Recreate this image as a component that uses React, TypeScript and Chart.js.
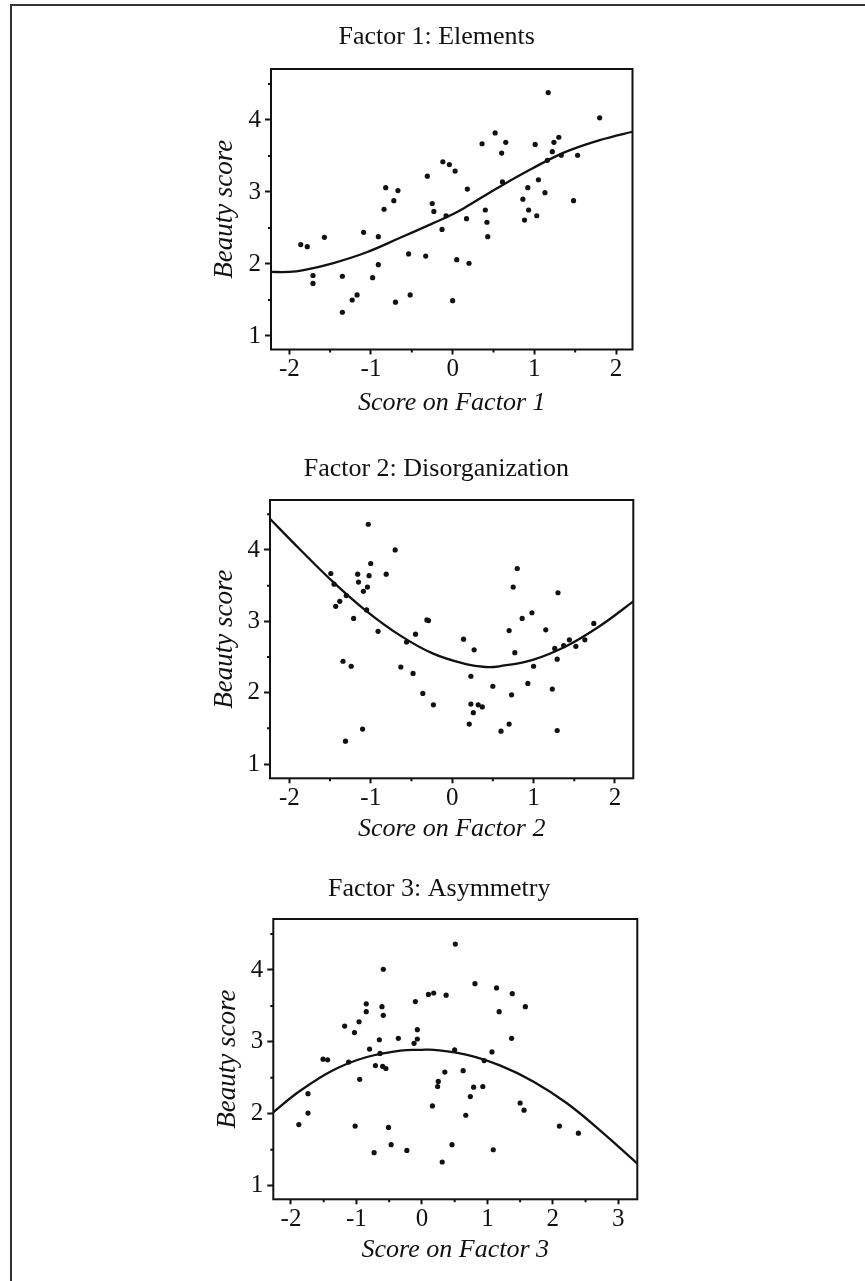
import React, { useEffect, useRef } from "react";
import { Chart, registerables } from "chart.js";

Chart.register(...registerables);

const FONT = "'Liberation Serif', 'Times New Roman', Times, serif";
const INK = "#111111";

// ---------- Data: Factor 1 (Elements) ----------
const f1X = [-1.86, -1.78, -1.57, -1.71, -1.71, -1.35, -1.35, -1.23, -1.17, -1.09, -0.98, -0.91, -0.91, -0.84, -0.82, -0.72, -0.67, -0.7, -0.54, -0.52, -0.33, -0.31, -0.25, -0.23, -0.13, -0.12, -0.08, -0.04, 0.03, 0.0, 0.05, 0.17, 0.18, 0.2, 0.36, 0.4, 0.42, 0.43, 0.52, 0.6, 0.61, 0.65, 0.86, 0.88, 0.92, 0.93, 1.01, 1.03, 1.05, 1.13, 1.16, 1.17, 1.22, 1.24, 1.3, 1.33, 1.48, 1.53, 1.8];
const f1Y = [2.27, 2.24, 2.37, 1.84, 1.73, 1.83, 1.33, 1.5, 1.57, 2.44, 1.81, 1.99, 2.38, 2.76, 3.06, 2.88, 3.02, 1.47, 2.14, 1.57, 2.11, 3.22, 2.84, 2.73, 2.48, 3.42, 2.67, 3.38, 3.29, 1.49, 2.06, 2.63, 3.04, 2.01, 3.67, 2.75, 2.58, 2.38, 3.82, 3.54, 3.14, 3.69, 2.9, 2.61, 3.06, 2.75, 3.66, 2.67, 3.17, 2.99, 3.44, 4.38, 3.56, 3.69, 3.76, 3.51, 2.88, 3.51, 4.03];
const f1CurveX = [-2.25, -2.0, -1.84, -1.47, -1.06, -0.65, -0.25, 0.0, 0.16, 0.57, 0.98, 1.39, 1.8, 2.25];
const f1CurveY = [1.89, 1.89, 1.91, 2.01, 2.16, 2.36, 2.56, 2.69, 2.79, 3.07, 3.33, 3.56, 3.72, 3.85];

// ---------- Data: Factor 2 (Disorganization) ----------
const f2X = [-1.49, -1.45, -1.43, -1.38, -1.3, -1.34, -1.31, -1.24, -1.21, -1.16, -1.15, -1.1, -1.09, -1.05, -1.04, -1.03, -1.02, -1.0, -0.91, -0.81, -0.7, -0.63, -0.56, -0.48, -0.45, -0.36, -0.31, -0.29, -0.23, 0.14, 0.21, 0.23, 0.23, 0.26, 0.27, 0.32, 0.37, 0.5, 0.6, 0.7, 0.7, 0.73, 0.75, 0.77, 0.8, 0.86, 0.93, 0.98, 1.0, 1.15, 1.23, 1.26, 1.29, 1.29, 1.3, 1.37, 1.44, 1.52, 1.63, 1.74];
const f2Y = [3.67, 3.52, 3.21, 3.28, 3.36, 2.44, 1.32, 2.37, 3.04, 3.66, 3.55, 1.49, 3.42, 3.16, 3.48, 4.36, 3.64, 3.81, 2.86, 3.66, 4.0, 2.36, 2.71, 2.27, 2.82, 1.99, 3.02, 3.01, 1.83, 2.75, 1.56, 2.23, 1.84, 1.72, 2.6, 1.83, 1.8, 2.09, 1.46, 1.56, 2.87, 1.97, 3.48, 2.56, 3.74, 3.04, 2.13, 3.12, 2.37, 2.88, 2.05, 2.62, 2.47, 1.47, 3.4, 2.66, 2.74, 2.65, 2.74, 2.97];
const f2CurveX = [-2.25, -1.88, -1.47, -1.06, -0.65, -0.24, 0.17, 0.41, 0.58, 0.99, 1.4, 1.81, 2.25];
const f2CurveY = [4.45, 4.02, 3.56, 3.15, 2.81, 2.55, 2.4, 2.36, 2.37, 2.46, 2.65, 2.93, 3.3];

// ---------- Data: Factor 3 (Asymmetry) ----------
const f3X = [-1.88, -1.74, -1.74, -1.51, -1.44, -1.18, -1.12, -1.03, -1.02, -0.96, -0.95, -0.85, -0.85, -0.8, -0.73, -0.71, -0.65, -0.64, -0.61, -0.59, -0.59, -0.6, -0.55, -0.51, -0.47, -0.36, -0.23, -0.12, -0.1, -0.07, -0.07, 0.1, 0.18, 0.16, 0.24, 0.25, 0.31, 0.35, 0.37, 0.46, 0.51, 0.5, 0.63, 0.67, 0.74, 0.79, 0.81, 0.93, 0.95, 1.07, 1.09, 1.14, 1.18, 1.37, 1.38, 1.5, 1.56, 1.58, 2.1, 2.39];
const f3Y = [1.85, 2.28, 2.01, 2.76, 2.75, 3.22, 2.72, 3.13, 1.83, 3.28, 2.48, 3.53, 3.42, 2.9, 1.46, 2.67, 3.03, 2.84, 3.49, 4.01, 3.37, 2.66, 2.63, 1.81, 1.57, 3.05, 1.49, 2.98, 3.56, 3.04, 3.17, 3.66, 3.68, 2.11, 2.38, 2.45, 1.33, 2.58, 3.65, 1.57, 4.36, 2.89, 2.6, 1.98, 2.24, 2.37, 3.81, 2.38, 2.74, 2.86, 1.5, 3.75, 3.42, 3.05, 3.67, 2.15, 2.05, 3.49, 1.83, 1.73];
const f3CurveX = [-2.3, -1.86, -1.35, -0.84, -0.33, 0.0, 0.18, 0.69, 1.2, 1.7, 2.21, 2.72, 3.3];
const f3CurveY = [2.0, 2.32, 2.61, 2.79, 2.88, 2.89, 2.89, 2.82, 2.67, 2.45, 2.15, 1.77, 1.3];

// ---------- Ticks & labels ----------
const ticksX12 = [-2, -1, 0, 1, 2];
const ticksX3 = [-2, -1, 0, 1, 2, 3];
const ticksY = [1, 2, 3, 4];
const minorX12 = [-1.5, -0.5, 0.5, 1.5];
const minorX3 = [-1.5, -0.5, 0.5, 1.5, 2.5];
const minorY = [1.5, 2.5, 3.5, 4.5];

const panelTitles = ["Factor 1: Elements", "Factor 2: Disorganization", "Factor 3: Asymmetry"];
const xAxisLabels = ["Score on Factor 1", "Score on Factor 2", "Score on Factor 3"];
const yAxisLabel = "Beauty score";

const xRanges = [[-2.224, 2.202], [-2.237, 2.225], [-2.27, 3.29]];
const yRanges = [[0.8125, 4.708], [0.8, 4.7], [0.811, 4.709]];

const seriesX = [f1X, f2X, f3X];
const seriesY = [f1Y, f2Y, f3Y];
const curvesX = [f1CurveX, f2CurveX, f3CurveX];
const curvesY = [f1CurveY, f2CurveY, f3CurveY];
const majorX = [ticksX12, ticksX12, ticksX3];
const minorX = [minorX12, minorX12, minorX3];

// ---------- Layout (page pixel positions) ----------
const PAGE_W = 865;
const TITLE_SIZE = 26;
const X_TITLE_SIZE = 26;
const Y_TITLE_SIZE = 27;
const TICK_SIZE = 25;

const PANELS = [
  { top: 0, height: 430, box: { l: 271, r: 632.5, t: 69, b: 349.5 }, titleCY: 37.5, titleCX: 436.7, xLabelCY: 403, yLabelCX: 225 },
  { top: 430, height: 420, box: { l: 270, r: 633.3, t: 500, b: 778.3 }, titleCY: 469.5, titleCX: 436.3, xLabelCY: 829, yLabelCX: 225 },
  { top: 850, height: 431, box: { l: 273.3, r: 637.3, t: 919, b: 1199.3 }, titleCY: 889.5, titleCX: 439.3, xLabelCY: 1250.4, yLabelCX: 227.5 },
];

function makeFramePlugin(minX: number[], minY: number[]) {
  return {
    id: "frameAndMinor",
    afterDraw(chart: any) {
      const { ctx, chartArea } = chart;
      const { left, right, top, bottom } = chartArea;
      ctx.save();
      ctx.strokeStyle = INK;
      ctx.lineWidth = 2;
      ctx.lineJoin = "miter";
      ctx.strokeRect(left, top, right - left, bottom - top);
      ctx.beginPath();
      const xs = chart.scales.x;
      const ys = chart.scales.y;
      minX.forEach((v) => {
        const px = xs.getPixelForValue(v);
        ctx.moveTo(px, bottom);
        ctx.lineTo(px, bottom + 3);
      });
      minY.forEach((v) => {
        const py = ys.getPixelForValue(v);
        ctx.moveTo(left, py);
        ctx.lineTo(left - 3, py);
      });
      ctx.stroke();
      ctx.restore();
    },
  };
}

function buildConfig(i: number): any {
  const p = PANELS[i];
  const titleLH = TITLE_SIZE * 1.2;
  const xAxisLH = X_TITLE_SIZE * 1.2;
  const yAxisLH = Y_TITLE_SIZE * 1.2;
  const boxT = p.box.t - p.top;
  const boxB = p.box.b - p.top;
  const PL = p.yLabelCX - yAxisLH / 2;
  const PR = PAGE_W + PL - 2 * p.titleCX;
  const yW = p.box.l - PL;
  const y2W = PAGE_W - PR - p.box.r;
  const titlePadTop = p.titleCY - p.top - titleLH / 2;
  const titlePadBottom = boxT - titlePadTop - titleLH;
  const xH = p.height - boxB;
  const xTitlePadBottom = p.height - (p.xLabelCY - p.top) - xAxisLH / 2;

  const points = seriesX[i].map((x, k) => ({ x, y: seriesY[i][k] }));
  const curve = curvesX[i].map((x, k) => ({ x, y: curvesY[i][k] }));

  const tickFont = { family: FONT, size: TICK_SIZE };

  return {
    type: "scatter",
    data: {
      datasets: [
        {
          data: points,
          showLine: false,
          pointRadius: 2.6,
          pointBackgroundColor: INK,
          pointBorderWidth: 0,
          pointHoverRadius: 2.6,
        },
        {
          data: curve,
          showLine: true,
          borderColor: INK,
          borderWidth: 2.3,
          pointRadius: 0,
          pointHoverRadius: 0,
          tension: 0.4,
          fill: false,
        },
      ],
    },
    options: {
      responsive: false,
      animation: false,
      devicePixelRatio: 1,
      events: [],
      layout: { padding: { left: PL, right: PR, top: 0, bottom: 0 } },
      plugins: {
        legend: { display: false },
        tooltip: { enabled: false },
        title: {
          display: true,
          text: panelTitles[i],
          color: INK,
          font: { family: FONT, size: TITLE_SIZE, weight: "normal" },
          padding: { top: titlePadTop, bottom: titlePadBottom },
        },
      },
      scales: {
        x: {
          type: "linear",
          position: "bottom",
          min: xRanges[i][0],
          max: xRanges[i][1],
          afterBuildTicks: (s: any) => {
            s.ticks = majorX[i].map((v) => ({ value: v }));
          },
          afterFit: (s: any) => {
            s.height = xH;
          },
          ticks: {
            font: tickFont,
            color: INK,
            padding: 0,
            autoSkip: false,
            maxRotation: 0,
            callback: (v: any) => String(v),
          },
          grid: { display: true, drawOnChartArea: false, drawTicks: true, tickLength: 5, tickWidth: 2, tickColor: INK },
          border: { display: false },
          title: {
            display: true,
            text: xAxisLabels[i],
            color: INK,
            font: { family: FONT, size: X_TITLE_SIZE, style: "italic" },
            padding: { top: 0, bottom: xTitlePadBottom },
          },
        },
        y: {
          type: "linear",
          position: "left",
          min: yRanges[i][0],
          max: yRanges[i][1],
          afterBuildTicks: (s: any) => {
            s.ticks = ticksY.map((v) => ({ value: v }));
          },
          afterFit: (s: any) => {
            s.width = yW;
          },
          ticks: {
            font: tickFont,
            color: INK,
            padding: 4,
            autoSkip: false,
            callback: (v: any) => String(v),
          },
          grid: { display: true, drawOnChartArea: false, drawTicks: true, tickLength: 6, tickWidth: 2, tickColor: INK },
          border: { display: false },
          title: {
            display: true,
            text: yAxisLabel,
            color: INK,
            font: { family: FONT, size: Y_TITLE_SIZE, style: "italic" },
            padding: { top: 0, bottom: 0 },
          },
        },
        y2: {
          type: "linear",
          position: "right",
          min: yRanges[i][0],
          max: yRanges[i][1],
          display: true,
          afterFit: (s: any) => {
            s.width = y2W;
          },
          ticks: { display: false },
          grid: { display: false },
          border: { display: false },
        },
      },
    },
    plugins: [makeFramePlugin(minorX[i], minorY)],
  };
}

function Panel({ index }: { index: number }) {
  const ref = useRef<HTMLCanvasElement>(null);
  useEffect(() => {
    if (!ref.current) return;
    const chart = new Chart(ref.current, buildConfig(index));
    return () => chart.destroy();
  }, [index]);
  const p = PANELS[index];
  return (
    <canvas
      ref={ref}
      width={PAGE_W}
      height={p.height}
      style={{ position: "absolute", left: 0, top: p.top, width: PAGE_W, height: p.height, display: "block" }}
    />
  );
}

export default function App() {
  return (
    <div
      style={{
        position: "absolute",
        left: 0,
        top: 0,
        width: PAGE_W,
        height: 1281,
        background: "#ffffff",
        overflow: "hidden",
      }}
    >
      <div
        style={{
          position: "absolute",
          left: 10,
          top: 4,
          width: PAGE_W - 10,
          height: 1281 - 4,
          borderTop: "2px solid #333",
          borderLeft: "2px solid #333",
          boxSizing: "border-box",
        }}
      />
      {PANELS.map((_, i) => (
        <Panel key={i} index={i} />
      ))}
    </div>
  );
}
